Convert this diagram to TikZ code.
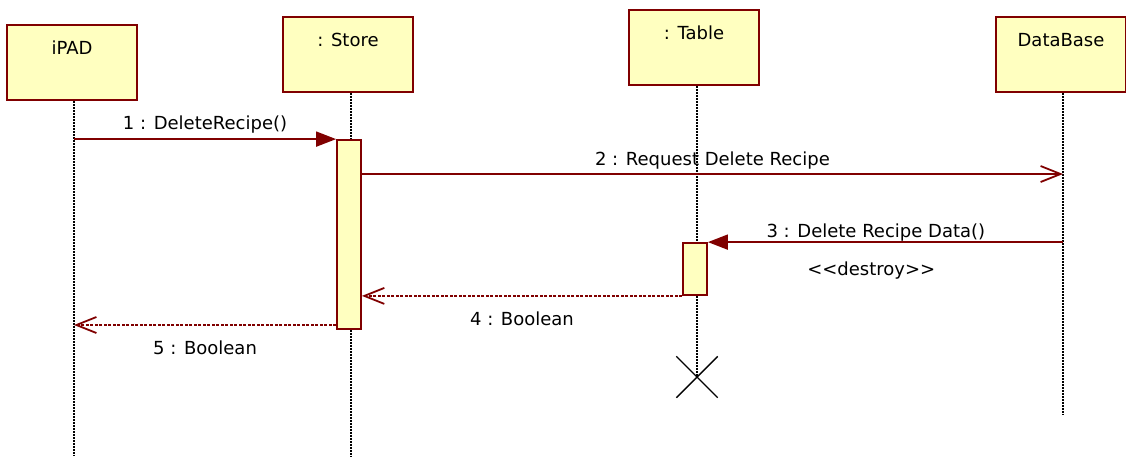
\documentclass[tikz,border=0pt]{standalone}
\usepackage{fontspec}
\setmainfont{DejaVu Sans}
\usepackage{tikz}
\usetikzlibrary{arrows.meta,shapes.misc}
\definecolor{umlred}{RGB}{128,0,0}
\definecolor{umlyellow}{RGB}{255,255,192}
\tikzset{
  >={Triangle[length=20pt,width=15pt]},
  obj/.style={draw=umlred, fill=umlyellow, line width=1.8pt, minimum width=130pt,
    inner sep=0pt, text height=29.5pt, text depth=45.5pt, anchor=north},
  act/.style={draw=umlred, fill=umlyellow, line width=1.8pt, minimum width=24pt, inner sep=0pt},
  life/.style={line width=1.3pt, dash pattern=on 2pt off 1pt},
  call/.style={->, draw=umlred, line width=1.8pt},
  send/.style={-{Straight Barb[length=20pt,width=16pt]}, draw=umlred, line width=1.8pt},
  reply/.style={send, dash pattern=on 3pt off 1.5pt},
  msg/.style={anchor=base, inner sep=0pt}
}
\begin{document}
\begin{tikzpicture}[x=1pt, y=-1pt, font=\fontsize{18}{22}\selectfont]
  \useasboundingbox (0,0) rectangle (1126,456);

  % objects
  \node[obj] (ipad) at (72,24) {iPAD};
  \node[obj] (store) at (348,16) {: Store};
  \node[obj] (table) at (694,9) {: Table};
  \node[obj] (db) at (1061,16) {DataBase};

  % lifelines
  \coordinate (ipad_end) at (74,456);
  \coordinate (store_end) at (351,456);
  \coordinate (db_end) at (1063,415);
  \node[cross out, draw, line width=1.4pt, minimum size=40pt, inner sep=0pt] (destroy) at (697,377) {};
  \draw[life] (ipad_end |- ipad.south) -- (ipad_end);
  \draw[life] (store_end |- store.south) -- (store_end);
  \draw[life] (destroy |- table.south) -- (destroy.center);
  \draw[life] (db_end |- db.south) -- (db_end);

  % activations
  \node[act, minimum height=189pt] (act_store) at (349,234.5) {};
  \node[act, minimum height=52pt] (act_table) at (695,269) {};

  % messages
  \draw[call] (ipad_end |- act_store.north) -- (act_store.north west)
    node[msg, midway, yshift=9.5pt] {1 : DeleteRecipe()};
  \draw[send] (act_store.east |- 0,174) -- (db_end |- 0,174)
    node[msg, midway, yshift=9pt] {2 : Request Delete Recipe};
  \draw[call] (db_end |- act_table.north) -- (act_table.north east)
    node[msg, pos=0.527, yshift=5pt] {3 : Delete Recipe Data()}
    node[msg, pos=0.54, yshift=-33pt] {<{}<destroy>{}>};
  \draw[reply] (act_table.south west) -- (act_store.east |- act_table.south)
    node[msg, midway, yshift=-30pt] {4 : Boolean};
  \draw[reply] (act_store.west |- 0,325) -- (ipad_end |- 0,325)
    node[msg, midway, yshift=-29.5pt] {5 : Boolean};
\end{tikzpicture}
\end{document}
